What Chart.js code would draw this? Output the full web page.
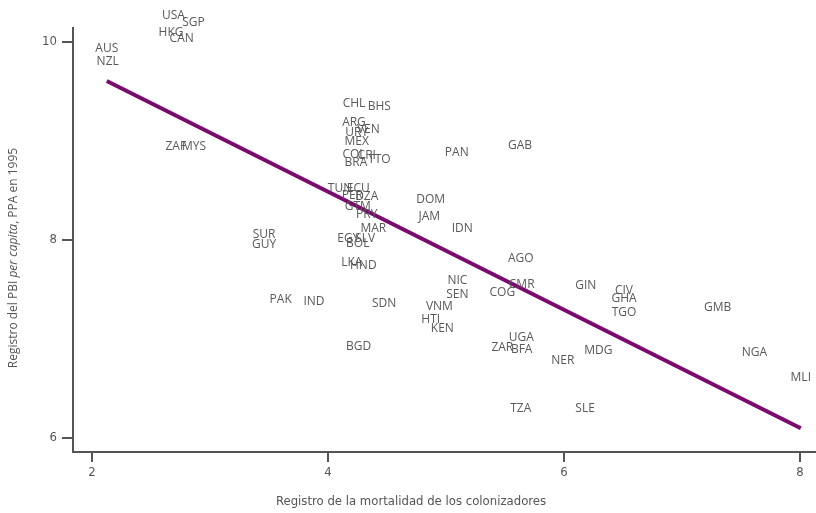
<!DOCTYPE html>
<html>
<head>
<meta charset="utf-8">
<script src="https://cdn.jsdelivr.net/npm/chart.js@4"></script>
<style>
    html, body { margin: 0; padding: 0; background: #fff; }
    #wrap { width: 816px; height: 513px; }
</style>
</head>
<body>
<div id="wrap"><canvas id="chart" width="816" height="513"></canvas></div>
<script>
// country codes and where their labels sit (x = log settler mortality, y = log GDP pc 1995)
const countries = ["USA", "SGP", "HKG", "CAN", "AUS", "NZL", "ZAF", "MYS",
    "CHL", "BHS", "ARG", "VEN", "URY", "MEX", "COL", "CRI", "TTO", "BRA",
    "TUN", "ECU", "PER", "DZA", "GTM", "PRY", "MAR", "EGY", "SLV", "BOL", "LKA", "HND",
    "SUR", "GUY", "PAK", "IND", "SDN", "BGD",
    "PAN", "GAB", "DOM", "JAM", "IDN", "AGO", "NIC", "SEN", "CMR", "COG",
    "VNM", "HTI", "KEN", "UGA", "ZAR", "BFA", "NER", "TZA", "SLE",
    "GIN", "CIV", "GHA", "TGO", "MDG", "GMB", "NGA", "MLI"];
const mortality = [2.69, 2.86, 2.67, 2.76, 2.125, 2.133, 2.71, 2.864,
    4.22, 4.435, 4.22, 4.342, 4.243, 4.243, 4.22, 4.328, 4.435, 4.237,
    4.102, 4.257, 4.206, 4.328, 4.252, 4.328, 4.384, 4.172, 4.314, 4.252, 4.201, 4.299,
    3.458, 3.458, 3.599, 3.881, 4.475, 4.26,
    5.091, 5.627, 4.87, 4.858, 5.138, 5.633, 5.096, 5.096, 5.641, 5.477,
    4.944, 4.87, 4.969, 5.638, 5.477, 5.641, 5.989, 5.633, 6.178,
    6.184, 6.508, 6.508, 6.508, 6.291, 7.302, 7.613, 8.006];
const gdp = [10.266, 10.195, 10.098, 10.033, 9.936, 9.801, 8.942, 8.942,
    9.374, 9.346, 9.185, 9.118, 9.084, 8.993, 8.866, 8.848, 8.815, 8.781,
    8.522, 8.522, 8.447, 8.437, 8.336, 8.26, 8.111, 8.017, 8.017, 7.967, 7.775, 7.74,
    8.058, 7.957, 7.394, 7.377, 7.36, 6.922,
    8.882, 8.953, 8.411, 8.235, 8.111, 7.808, 7.589, 7.452, 7.553, 7.468,
    7.326, 7.192, 7.108, 7.013, 6.912, 6.892, 6.781, 6.293, 6.293,
    7.539, 7.488, 7.404, 7.27, 6.882, 7.317, 6.862, 6.613];

// fitted line
const fitX = [2.125, 8.006];
const fitY = [9.606, 6.098];

const xTicks = [2, 4, 6, 8];
const yTicks = [6, 8, 10];

const grey = "#555555";
const narrow = "'Liberation Sans Narrow', 'DejaVu Sans Condensed', sans-serif";

const labelPlugin = {
    id: "countryLabels",
    afterDatasetsDraw(chart) {
        const ctx = chart.ctx;
        const xs = chart.scales.x;
        const ys = chart.scales.y;
        ctx.save();
        ctx.font = "12px 'Open Sans', sans-serif";
        ctx.fillStyle = "#595959";
        ctx.textAlign = "center";
        ctx.textBaseline = "middle";
        countries.forEach((c, i) => {
            ctx.fillText(c, xs.getPixelForValue(mortality[i]), ys.getPixelForValue(gdp[i]));
        });
        ctx.restore();
    },
    afterDraw(chart) {
        // axis titles (y title mixes upright and italic text)
        const ctx = chart.ctx;
        ctx.save();
        ctx.fillStyle = grey;
        ctx.textBaseline = "middle";
        ctx.font = "13px " + narrow;
        ctx.textAlign = "center";
        ctx.fillText("Registro de la mortalidad de los colonizadores", 411, 502);

        const parts = [
            ["Registro del PBI ", "12px 'Open Sans', sans-serif"],
            ["per capita", "italic 12px 'Open Sans', sans-serif"],
            [", PPA en 1995", "12px 'Open Sans', sans-serif"]
        ];
        let total = 0;
        parts.forEach(p => { ctx.font = p[1]; total += ctx.measureText(p[0]).width; });
        ctx.translate(14, 258);
        ctx.rotate(-Math.PI / 2);
        ctx.textAlign = "left";
        let pos = -total / 2;
        parts.forEach(p => {
            ctx.font = p[1];
            ctx.fillText(p[0], pos, 0);
            pos += ctx.measureText(p[0]).width;
        });
        ctx.restore();
    }
};

new Chart(document.getElementById("chart"), {
    type: "scatter",
    data: {
        datasets: [{
            type: "line",
            label: "ajuste",
            data: fitX.map((x, i) => ({ x: x, y: fitY[i] })),
            borderColor: "#7a0a6e",
            borderWidth: 4,
            pointRadius: 0,
            fill: false
        }]
    },
    options: {
        responsive: false,
        animation: false,
        layout: { padding: { top: 28, right: 0, left: 0, bottom: 0 } },
        plugins: {
            legend: { display: false },
            tooltip: { enabled: false }
        },
        scales: {
            x: {
                type: "linear",
                min: 1.839,
                max: 8.135,
                afterBuildTicks: scale => { scale.ticks = xTicks.map(v => ({ value: v })); },
                afterFit: scale => { scale.height = 61; },
                grid: { drawOnChartArea: false, drawTicks: true, tickLength: 10, color: grey, lineWidth: 2 },
                border: { display: true, color: grey, width: 2 },
                ticks: { color: grey, padding: 3, font: { family: narrow, size: 13 } }
            },
            y: {
                type: "linear",
                min: 5.859,
                max: 10.141,
                afterBuildTicks: scale => { scale.ticks = yTicks.map(v => ({ value: v })); },
                afterFit: scale => { scale.width = 73; },
                grid: { drawOnChartArea: false, drawTicks: true, tickLength: 11, color: grey, lineWidth: 2 },
                border: { display: true, color: grey, width: 2 },
                ticks: { color: grey, padding: 5, font: { family: narrow, size: 13 } }
            }
        }
    },
    plugins: [labelPlugin]
});
</script>
</body>
</html>
